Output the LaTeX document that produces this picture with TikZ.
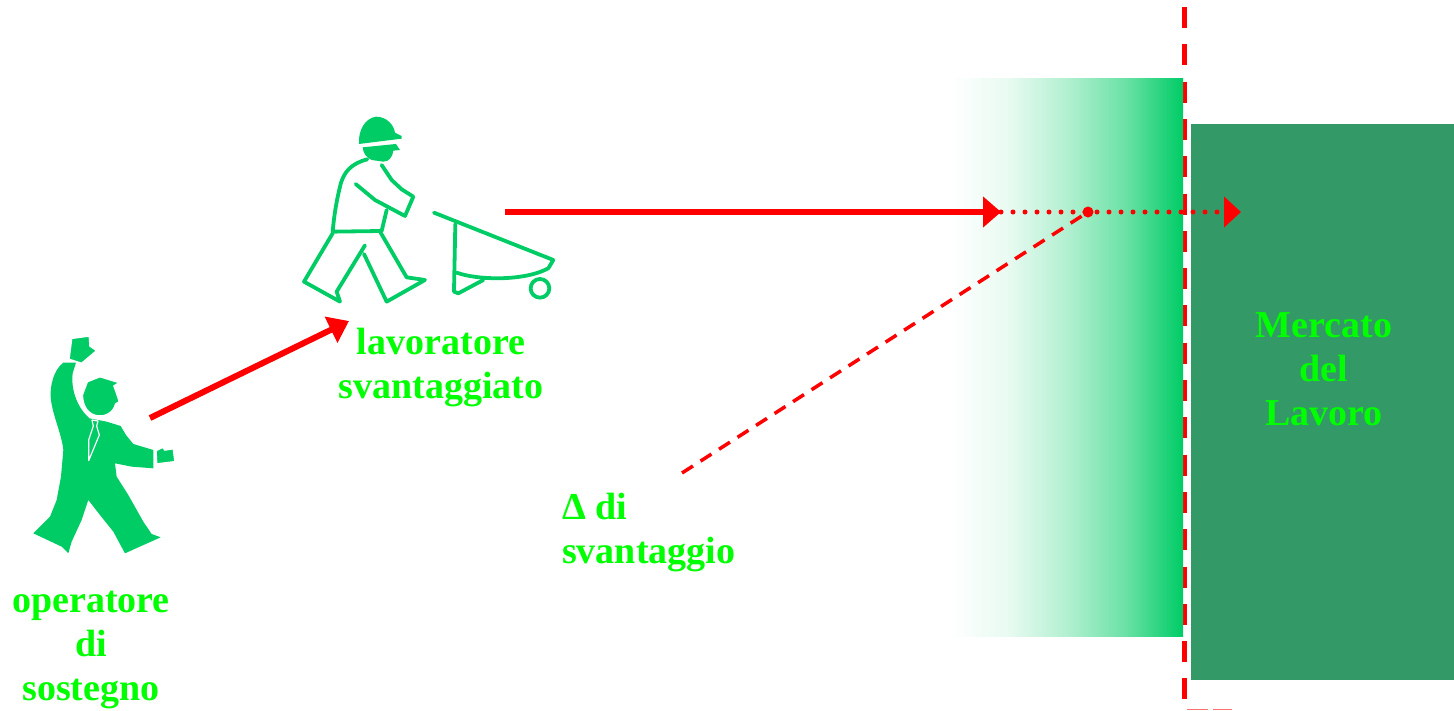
\documentclass[tikz,border=0pt]{standalone}
\usepackage{fontspec}
\setmainfont{Liberation Serif}
\usetikzlibrary{arrows.meta}
\definecolor{figgreen}{RGB}{0,204,102}
\definecolor{boxgreen}{RGB}{51,153,102}
\definecolor{txtgreen}{RGB}{0,255,0}
\definecolor{arrred}{RGB}{255,0,0}
% white-to-green fade that stays pale for longer on the left
\pgfdeclarehorizontalshading{accessfade}{100bp}{
  color(0bp)=(white); color(25bp)=(white);
  color(37.5bp)=(figgreen!9); color(50bp)=(figgreen!30);
  color(62.5bp)=(figgreen!58); color(75bp)=(figgreen); color(100bp)=(figgreen)}
\tikzset{
  lbl/.style={text=txtgreen, font=\bfseries\fontsize{38}{44}\selectfont, inner sep=0pt, align=center},
  flow/.style={arrred, line width=6pt},
  outline/.style={figgreen, line width=3.8pt, line join=round, line cap=round},
}
\begin{document}
\begin{tikzpicture}[x=1pt,y=-1pt]
\useasboundingbox (0,0) rectangle (1454,710);

% boundary of the labour market
\draw[arrred, line width=5pt, dash pattern=on 21pt off 16.3pt] (1184,7) -- (1184,712);

% fading access zone and the labour market block
\shade[shading=accessfade] (950,78) rectangle (1183,636);
\node[fill=boxgreen, minimum width=263pt, minimum height=556pt, inner sep=0pt, anchor=north west] (market) at (1191,124) {};
\node[lbl, anchor=base] (mercato) at (1324,425) {Mercato\\del\\Lavoro};

% support operator (filled silhouette), drawn in a local frame
\begin{scope}[shift={(0,320)}, scale=0.3333]
  \fill[figgreen] (190,128) .. controls (160,150) and (150,200) .. (152,230)
    .. controls (155,280) and (185,340) .. (190,390) -- (183,470) -- (170,540)
    -- (150,590) -- (100,640) -- (185,680) -- (205,700) -- (215,665) -- (245,600)
    -- (265,540) -- (300,585) -- (340,635) -- (375,700) -- (482,652) -- (455,642)
    -- (430,605) -- (385,525) -- (350,470) -- (345,430) -- (395,440) -- (460,445)
    -- (460,390) -- (400,372) -- (378,345) -- (362,318) -- (320,305) -- (268,295)
    .. controls (235,265) and (212,215) .. (218,160) -- (228,128) -- cycle;
  \filldraw[figgreen, draw=white, line width=1.5pt] (215,55) -- (268,48) -- (270,78) -- (290,92)
    -- (245,130) -- (207,118) -- cycle;
  \filldraw[figgreen, draw=white, line width=1.5pt] (262,185) -- (300,170) -- (358,188) -- (342,198)
    -- (350,220) -- (358,245) -- (347,252) .. controls (342,275) and (320,290) .. (295,288)
    .. controls (265,285) and (248,260) .. (247,225) -- cycle;
  \filldraw[figgreen, draw=white, line width=1.5pt] (468,392) -- (488,382) -- (495,390) -- (520,386)
    -- (525,425) -- (470,432) -- cycle;
  \draw[white, line width=1.2pt, line join=round] (276,300) -- (294,303) -- (290,318) -- (298,345)
    -- (266,422) -- (266,360) -- (280,318) -- cycle;
\end{scope}
\node[lbl, anchor=base] (operatore) at (91,700) {operatore\\di\\sostegno};

% disadvantaged worker with wheelbarrow (outline figure)
\begin{scope}[shift={(290,100)}, scale=0.3333]
  % helmet and face
  \fill[figgreen] (207,130) .. controls (205,90) and (225,55) .. (258,50)
    .. controls (290,50) and (312,75) .. (315,98) -- (335,108) -- (335,116) -- (207,132) -- cycle;
  \fill[figgreen] (218,142) -- (318,132) -- (330,150) -- (310,152)
    .. controls (308,170) and (298,185) .. (280,185) -- (245,180)
    .. controls (228,172) and (220,160) .. (218,142) -- cycle;
  % body and arm
  \draw[outline] (232,178) .. controls (185,190) and (160,215) .. (150,260)
    .. controls (138,310) and (132,350) .. (128,395) -- (275,393) -- (290,330);
  \draw[outline] (275,195) -- (305,240) -- (335,268) -- (370,290) -- (345,348)
    -- (255,300) -- (197,252);
  % legs
  \draw[outline] (128,400) -- (42,545) -- (150,605) -- (140,575) -- (225,436);
  \draw[outline] (272,398) -- (350,532) -- (405,540) -- (290,605) -- (222,462);
  % wheelbarrow
  \draw[outline] (432,338) -- (790,480);
  \draw[outline] (496,372) -- (492,575) -- (505,580) -- (580,540);
  \draw[outline] (500,518) .. controls (560,540) and (700,545) .. (775,505) -- (790,480);
  \draw[outline] (750,565) circle (28);
\end{scope}
\node[lbl, anchor=base] (lavoratore) at (441,398) {lavoratore\\svantaggiato};

% gap label
\node[lbl, align=left, anchor=base west] (delta) at (562,563) {Δ di\\svantaggio};

% connectors
\coordinate (opout) at (150,418);
\coordinate (lavin) at (349,321);
\coordinate (lavout) at (505,212);
\coordinate (edge) at (1001,212);
\coordinate (meet) at (1088,212);
\coordinate (beyond) at (1241,212);
\coordinate (gapfoot) at (682,473);
\draw[flow, -{Triangle[length=20pt,width=28pt]}] (opout) -- (lavin);
\draw[flow, -{Triangle[length=18pt,width=30pt]}] (lavout) -- (edge);
\draw[arrred, line width=5pt, line cap=round, dash pattern=on 0pt off 12pt,
      -{Triangle[length=17pt,width=30pt]}] (edge) -- (beyond);
\draw[arrred, line width=3.5pt, dash pattern=on 13pt off 9pt] (gapfoot) -- (meet);
\fill[arrred] (meet) circle (5.5);

% clipped mark at the lower edge
\draw[arrred!55, line width=1.5pt] (1187,709.5) -- (1208,709.5) (1213,709.5) -- (1232,709.5);
\end{tikzpicture}
\end{document}
